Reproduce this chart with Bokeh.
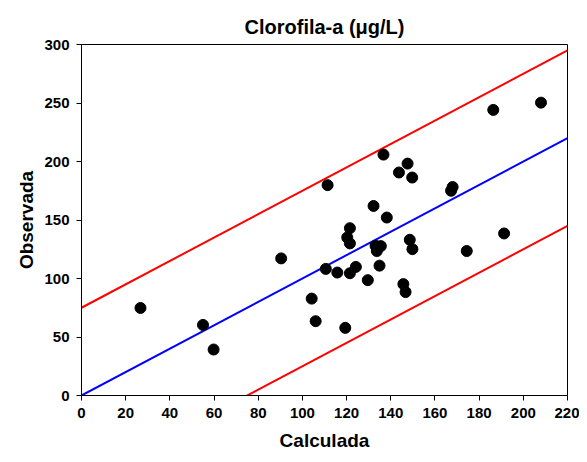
from bokeh.plotting import figure
from bokeh.models import FixedTicker, ColumnDataSource
from bokeh.embed import file_html
from bokeh.resources import INLINE

# Data
calculada = [26.7, 55.0, 59.8, 90.4, 104.2, 106.0, 110.6, 111.4, 115.8, 119.4,
             120.3, 121.5, 121.5, 121.5, 124.2, 129.6, 132.2, 133.1, 133.7, 135.5,
             134.9, 136.7, 138.2, 143.7, 145.7, 146.7, 147.6, 148.6, 149.7, 149.8,
             167.3, 168.0, 174.4, 186.4, 191.3, 208.0]
observada = [74.8, 60.3, 39.3, 117.2, 82.8, 63.5, 108.2, 179.8, 105.1, 57.8,
             135.1, 130.0, 143.0, 104.5, 109.9, 98.6, 162.0, 128.0, 123.5, 127.7,
             111.0, 205.9, 152.1, 190.6, 95.2, 88.4, 198.2, 133.1, 186.3, 125.1,
             175.0, 178.2, 123.5, 244.1, 138.5, 250.3]
line_x = [0, 220]
band = 75.0
x_ticks = list(range(0, 221, 20))
y_ticks = list(range(0, 301, 50))

FONT = "Liberation Sans"

p = figure(width=579, height=454, output_backend="svg", toolbar_location=None,
           x_range=(0, 220), y_range=(0, 300),
           title="Clorofila-a (\u03bcg/L)",
           min_border_left=81, min_border_right=12, min_border_top=44, min_border_bottom=59)

p.title.align = "center"
p.title.text_font = FONT
p.title.text_font_size = "20px"
p.title.text_font_style = "bold"
p.title.text_color = "black"
p.title.standoff = 14

p.xgrid.visible = False
p.ygrid.visible = False
p.outline_line_color = "black"
p.outline_line_width = 1

for ax in (p.xaxis[0], p.yaxis[0]):
    ax.major_label_text_font = FONT
    ax.major_label_text_font_style = "bold"
    ax.major_label_text_font_size = "15px"
    ax.major_label_text_color = "black"
    ax.axis_label_text_font = FONT
    ax.axis_label_text_font_style = "bold"
    ax.axis_label_text_font_size = "19px"
    ax.axis_label_text_color = "black"
    ax.minor_tick_line_color = None
    ax.major_tick_in = 0
    ax.major_tick_out = 5
    ax.axis_line_color = "black"
    ax.major_tick_line_color = "black"

p.xaxis.ticker = FixedTicker(ticks=x_ticks)
p.yaxis.ticker = FixedTicker(ticks=y_ticks)
p.xaxis.axis_label = "Calculada"
p.yaxis.axis_label = "Observada"
p.xaxis.major_label_standoff = 7
p.xaxis.axis_label_standoff = 9
p.yaxis.major_label_standoff = 7
p.yaxis.axis_label_standoff = 4

# 1:1 line and bounds
p.line(line_x, [v for v in line_x], line_color="blue", line_width=2)
p.line(line_x, [v + band for v in line_x], line_color="red", line_width=2)
p.line(line_x, [v - band for v in line_x], line_color="red", line_width=2)

src = ColumnDataSource(dict(x=calculada, y=observada))
p.scatter("x", "y", source=src, size=11, fill_color="black", line_color="black")

open("out.html", "w").write(file_html(p, INLINE))
